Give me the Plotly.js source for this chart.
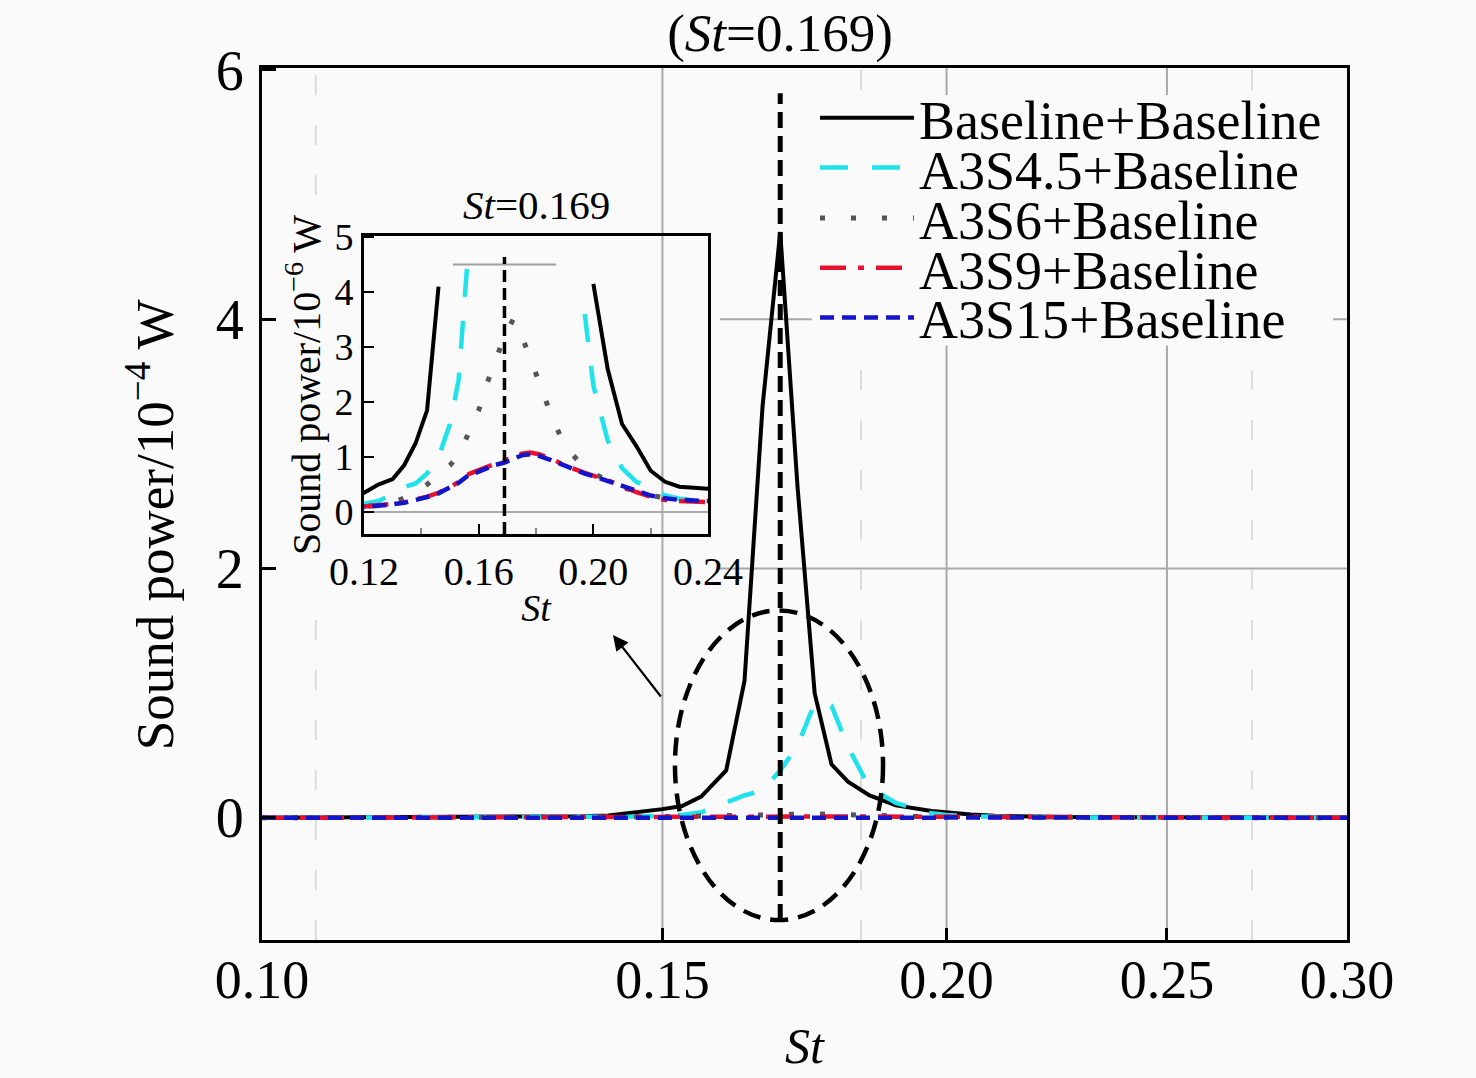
<!DOCTYPE html>
<html>
<head>
<meta charset="utf-8">
<script src="https://cdn.plot.ly/plotly-3.0.1.min.js"></script>
<style>
  html, body { margin: 0; padding: 0; background: #fafafa; }
  #chart { width: 1476px; height: 1078px; }
</style>
</head>
<body>
<div id="chart"></div>
<script>
// Strouhal numbers shared by every series
var stValues = [0.100, 0.110, 0.120, 0.125, 0.130, 0.134, 0.138, 0.142, 0.146, 0.150,
                0.153, 0.156, 0.160, 0.163, 0.166, 0.169, 0.172, 0.175, 0.178, 0.181,
                0.185, 0.190, 0.197, 0.200, 0.205, 0.210, 0.215, 0.220, 0.225, 0.230,
                0.240, 0.250, 0.270, 0.300];

// sound power, in 10^-6 W (the inset unit); main plot shows them in 10^-4 W
var baselineBaseline = [0.15, 0.25, 0.35, 0.5, 0.6, 0.85, 1.25, 1.85, 4.1, 7,
                        9.5, 17, 38, 110, 330, 470, 265, 100, 43, 29,
                        18, 10, 5.5, 4.15, 2.6, 1.6, 1.2, 0.75, 0.55, 0.46,
                        0.42, 0.38, 0.3, 0.2];
var a3s45Baseline = [0.05, 0.08, 0.15, 0.2, 0.32, 0.45, 0.52, 0.7, 1.0, 1.6,
                     2.4, 4.5, 12, 18, 22, 38, 58, 92, 90, 57,
                     24, 12, 3.6, 2.3, 1.3, 0.8, 0.55, 0.42, 0.3, 0.24,
                     0.18, 0.15, 0.1, 0.06];
var a3s6Baseline = [0.03, 0.05, 0.1, 0.12, 0.18, 0.25, 0.35, 0.5, 0.68, 0.85,
                    1.03, 1.4, 1.85, 2.35, 2.8, 3.2, 3.5, 3.2, 2.8, 2.35,
                    1.8, 1.2, 0.8, 0.7, 0.58, 0.45, 0.37, 0.3, 0.26, 0.22,
                    0.18, 0.15, 0.1, 0.06];
var a3s9Baseline = [0.02, 0.04, 0.1, 0.12, 0.15, 0.18, 0.22, 0.28, 0.35, 0.45,
                    0.55, 0.68, 0.76, 0.82, 0.87, 0.92, 1.0, 1.06, 1.08, 1.05,
                    0.98, 0.85, 0.71, 0.66, 0.58, 0.47, 0.36, 0.28, 0.22, 0.2,
                    0.18, 0.15, 0.1, 0.06];
var a3s15Baseline = [0.02, 0.04, 0.09, 0.11, 0.14, 0.17, 0.21, 0.27, 0.34, 0.44,
                     0.53, 0.65, 0.74, 0.8, 0.86, 0.9, 0.97, 1.03, 1.05, 1.02,
                     0.95, 0.84, 0.7, 0.65, 0.56, 0.46, 0.37, 0.3, 0.25, 0.22,
                     0.2, 0.16, 0.1, 0.06];

var seriesNames = ['Baseline+Baseline', 'A3S4.5+Baseline', 'A3S6+Baseline',
                   'A3S9+Baseline', 'A3S15+Baseline'];
var seriesValues = [baselineBaseline, a3s45Baseline, a3s6Baseline, a3s9Baseline, a3s15Baseline];

var stPeak = 0.169;
var mainTickVals = [0.10, 0.15, 0.20, 0.25, 0.30];
var mainTickText = ['0.10', '0.15', '0.20', '0.25', '0.30'];
var insetTickVals = [0.12, 0.16, 0.20, 0.24];
var insetTickText = ['0.12', '0.16', '0.20', '0.24'];
var insetMax = 5;

// styles
var FONT = 'Liberation Serif, Times New Roman, serif';
var lineStyles = [
  {color: '#000000', width: 4, dash: 'solid'},
  {color: '#1fe3ea', width: 4.5, dash: '28px,24px'},
  {color: '#555555', width: 5, dash: '5px,26px'},
  {color: '#e8102c', width: 4.5, dash: '26px,12px,6px,12px'},
  {color: '#1414c8', width: 4.5, dash: '14px,8px'}
];
var legendIds = ['legend', 'legend2', 'legend3', 'legend4', 'legend5'];
var legendRowsY = [0.9425, 0.8855, 0.8275, 0.7705, 0.7135];

var data = [];

// main plot (10^-4 W)
seriesValues.forEach(function (vals, i) {
  data.push({
    x: stValues,
    y: vals.map(function (v) { return v / 100; }),
    name: seriesNames[i],
    type: 'scatter',
    mode: 'lines',
    line: lineStyles[i],
    xaxis: 'x',
    yaxis: 'y',
    legend: legendIds[i]
  });
});

// inset (10^-6 W), segments leaving the frame are not drawn
seriesValues.forEach(function (vals, i) {
  data.push({
    x: stValues,
    y: vals.map(function (v) { return v <= insetMax ? v : null; }),
    name: seriesNames[i],
    type: 'scatter',
    mode: 'lines',
    line: lineStyles[i],
    connectgaps: false,
    xaxis: 'x2',
    yaxis: 'y2',
    showlegend: false
  });
});

var gridColor = '#a9a9a9';
var faintGrid = {color: '#dcdcdc', width: 2, dash: '20px,30px'};
var shapes = [];

mainTickVals.slice(1, 4).forEach(function (v) {
  shapes.push({type: 'line', xref: 'x', yref: 'paper', x0: v, x1: v, y0: 0, y1: 1,
               line: {color: gridColor, width: 2}, layer: 'below'});
});
[0.1834, 0.2725].forEach(function (v) {
  shapes.push({type: 'line', xref: 'x', yref: 'paper', x0: v, x1: v, y0: 0, y1: 1,
               line: faintGrid, layer: 'below'});
});
[[0, 0.396], [0.854, 1]].forEach(function (seg) {
  shapes.push({type: 'line', xref: 'x', yref: 'paper', x0: 0.1056, x1: 0.1056, y0: seg[0], y1: seg[1],
               line: faintGrid, layer: 'below'});
});
[2, 4].forEach(function (v) {
  shapes.push({type: 'line', xref: 'x', yref: 'y', x0: 0.159, x1: 0.30, y0: v, y1: v,
               line: {color: gridColor, width: 2}, layer: 'below'});
});
// legend background (same layer as the grid lines so it hides them)
shapes.push({type: 'rect', xref: 'x', yref: 'y', x0: 0.1745, x1: 0.2958, y0: 3.79, y1: 5.8,
             fillcolor: '#fafafa', line: {width: 0}, layer: 'below'});
// stray gray line inside inset
shapes.push({type: 'line', xref: 'x2', yref: 'y2', x0: 0.151, x1: 0.187, y0: 4.5, y1: 4.5,
             line: {color: '#a0a0a0', width: 2}, layer: 'below'});

// St = 0.169 markers
shapes.push({type: 'line', xref: 'x', yref: 'paper', x0: stPeak, x1: stPeak, y0: 0.023, y1: 0.971,
             line: {color: '#000', width: 5, dash: '16px,8px'}, layer: 'above'});
shapes.push({type: 'line', xref: 'x2', yref: 'y2 domain', x0: stPeak, x1: stPeak, y0: 0, y1: 0.93,
             line: {color: '#000', width: 3.5, dash: '12px,6px'}, layer: 'above'});
// zoom ellipse
shapes.push({type: 'circle', xref: 'paper', yref: 'paper', x0: 0.3806, x1: 0.5724, y0: 0.0229, y1: 0.378,
             line: {color: '#000', width: 4.5, dash: '18px,10px'}, layer: 'above'});

var annotations = [
  {xref: 'paper', yref: 'paper', x: -0.103, y: 0.476, xanchor: 'center', yanchor: 'middle',
   textangle: -90, showarrow: false,
   text: 'Sound power/10<sup>\u22124</sup> W', font: {family: FONT, size: 53, color: '#000'}},
  {xref: 'x2 domain', yref: 'y2 domain', x: 0.5, y: 1.104, xanchor: 'center', yanchor: 'middle',
   text: '<i>St</i>=0.169', showarrow: false, font: {family: FONT, size: 41, color: '#000'}},
  {xref: 'paper', yref: 'paper', x: 0.3235, y: 0.3498, ax: 49, ay: 63, text: '',
   showarrow: true, arrowhead: 2, arrowsize: 1.4, arrowwidth: 2.2, arrowcolor: '#000'}
];

var layout = {
  width: 1476,
  height: 1078,
  margin: {l: 262, r: 129, t: 68, b: 138},
  paper_bgcolor: '#fafafa',
  plot_bgcolor: 'rgba(0,0,0,0)',
  font: {family: FONT, color: '#000', size: 52},
  title: {
    text: '(<i>St</i>=0.169)',
    font: {family: FONT, size: 53, color: '#000'},
    xref: 'container', yref: 'container',
    x: 780 / 1476, y: 1 - 32 / 1078, xanchor: 'center', yanchor: 'middle'
  },
  xaxis: {
    type: 'log',
    range: [-1, Math.log10(0.3)],
    tickvals: mainTickVals,
    ticktext: mainTickText,
    ticks: 'inside', ticklen: 12, tickwidth: 2.5, tickcolor: '#000',
    ticklabelstandoff: -10,
    showline: true, linewidth: 3, linecolor: '#000', mirror: true,
    showgrid: false, zeroline: false,
    tickfont: {family: FONT, size: 54},
    title: {text: '<i>St</i>', font: {family: FONT, size: 50}, standoff: 20}
  },
  yaxis: {
    range: [-0.98, 6.016],
    tickvals: [0, 2, 4, 6],
    ticks: 'inside', ticklen: 14, tickwidth: 2.5, tickcolor: '#000',
    ticklabelstandoff: 4,
    showline: true, linewidth: 3, linecolor: '#000', mirror: true,
    showgrid: false, zeroline: false,
    tickfont: {family: FONT, size: 56}
  },
  xaxis2: {
    domain: [0.0940, 0.4111],
    anchor: 'y2',
    range: [0.12, 0.24],
    tickvals: insetTickVals,
    ticktext: insetTickText,
    ticks: 'inside', ticklen: 10, tickwidth: 2, tickcolor: '#000',
    minor: {dtick: 0.02, ticks: 'inside', ticklen: 6, tickcolor: '#888', tickwidth: 1.5},
    showline: true, linewidth: 3, linecolor: '#000', mirror: true,
    showgrid: false, zeroline: false,
    tickfont: {family: FONT, size: 40},
    title: {text: '<i>St</i>', font: {family: FONT, size: 38}, standoff: 2}
  },
  yaxis2: {
    domain: [0.4656, 0.8073],
    anchor: 'x2',
    range: [-0.4, 5.02],
    tickvals: [0, 1, 2, 3, 4, 5],
    ticks: 'inside', ticklen: 10, tickwidth: 2, tickcolor: '#000',
    showline: true, linewidth: 3, linecolor: '#000', mirror: true,
    showgrid: false,
    zeroline: true, zerolinecolor: '#aaaaaa', zerolinewidth: 2,
    tickfont: {family: FONT, size: 38},
    title: {text: 'Sound power/10<sup>\u22126</sup> W', font: {family: FONT, size: 40}, standoff: 2}
  },
  shapes: shapes,
  annotations: annotations
};

legendIds.forEach(function (id, i) {
  layout[id] = {
    x: 0.5097, y: legendRowsY[i], xanchor: 'left', yanchor: 'middle',
    bgcolor: 'rgba(0,0,0,0)', borderwidth: 0,
    itemwidth: 94,
    font: {family: FONT, size: 54, color: '#000'}
  };
});

Plotly.newPlot('chart', data, layout, {displayModeBar: false});
</script>
</body>
</html>
